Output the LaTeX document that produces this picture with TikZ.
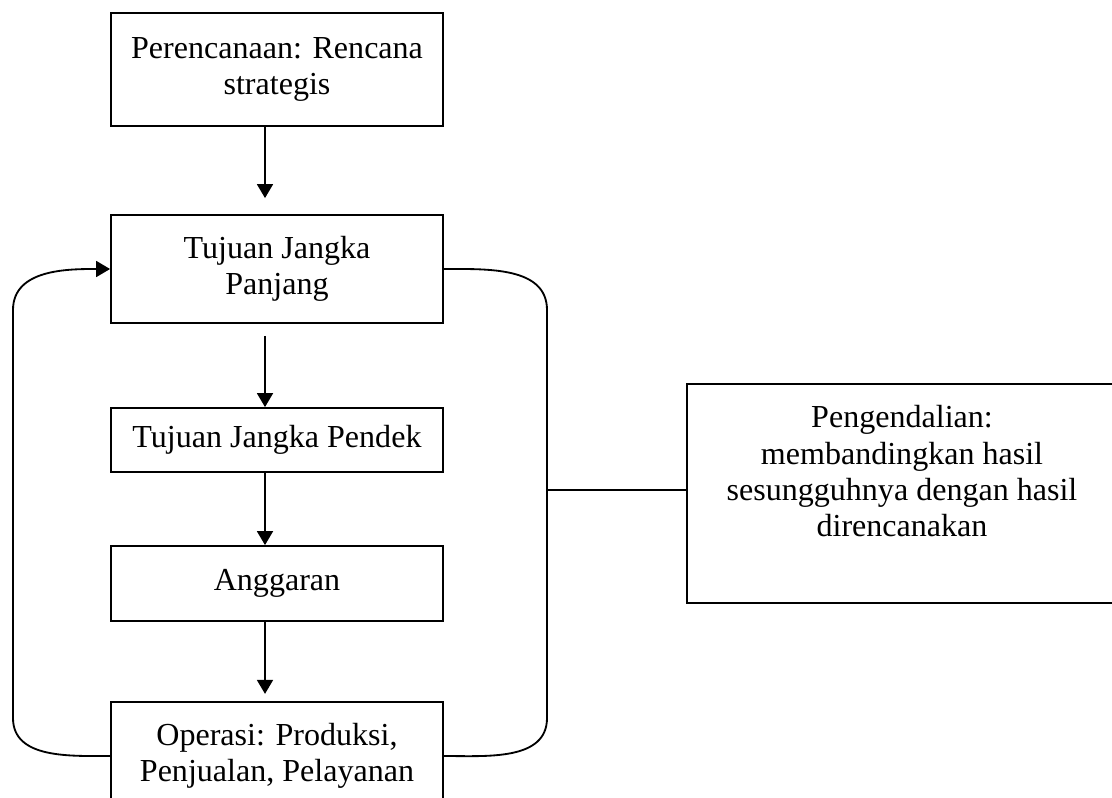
\documentclass[tikz,border=0pt]{standalone}
\usepackage{fontspec}
\setmainfont{Liberation Serif}
\usetikzlibrary{arrows.meta}
\tikzset{
  stage/.style={draw,line width=1.3pt,minimum width=8.3cm,align=center,inner sep=0pt},
  flow/.style={line width=1.3pt,-{Triangle[length=0.35cm,width=0.4cm]}},
  ring/.style={line width=1.3pt}
}
\begin{document}
\begin{tikzpicture}[font=\fontsize{22.8}{25.8}\selectfont]
  \useasboundingbox (0,0) rectangle (27.8,-19.95);
  \node[stage,minimum height=2.825cm] (plan) at (6.925,-1.7375) {Perencanaan: Rencana\\strategis};
  \node[stage,minimum height=2.7cm] (panjang) at (6.925,-6.725) {Tujuan Jangka\\Panjang};
  \node[stage,minimum height=1.6cm] (pendek) at (6.925,-11.0) {Tujuan Jangka Pendek};
  \node[stage,minimum height=1.875cm] (anggaran) at (6.925,-14.5875) {Anggaran};
  \node[stage,minimum height=2.7cm] (op) at (6.925,-18.9) {Operasi: Produksi,\\Penjualan, Pelayanan};
  \node[stage,minimum width=10.75cm,minimum height=5.475cm] (ctrl) at (22.55,-12.3375)
    {Pengendalian:\\membandingkan hasil\\sesungguhnya dengan hasil\\direncanakan\\[6pt]\mbox{}};
  \coordinate (lt) at (0.325,-7.75);
  \coordinate (lb) at (0.325,-17.95);
  \coordinate (rt) at (13.675,-7.75);
  \coordinate (rb) at (13.675,-17.95);
  \coordinate (rj) at (13.675,-12.25);
  \draw[flow,shorten >=0.4cm] ([xshift=-0.3cm]plan.south) -- ([xshift=-0.3cm]panjang.north);
  \draw[flow,shorten <=0.3cm] ([xshift=-0.3cm]panjang.south) -- ([xshift=-0.3cm]pendek.north);
  \draw[flow] ([xshift=-0.3cm]pendek.south) -- ([xshift=-0.3cm]anggaran.north);
  \draw[flow,shorten >=0.18cm] ([xshift=-0.3cm]anggaran.south) -- ([xshift=-0.3cm]op.north);
  \draw[flow] (op.west) to[out=180,in=-90] (lb) -- (lt) to[out=90,in=180] (panjang.west);
  \draw[ring] (panjang.east) to[out=0,in=90] (rt) -- (rb) to[out=-90,in=0] (op.east);
  \draw[ring] (rj) -- (rj -| ctrl.west);
\end{tikzpicture}
\end{document}
